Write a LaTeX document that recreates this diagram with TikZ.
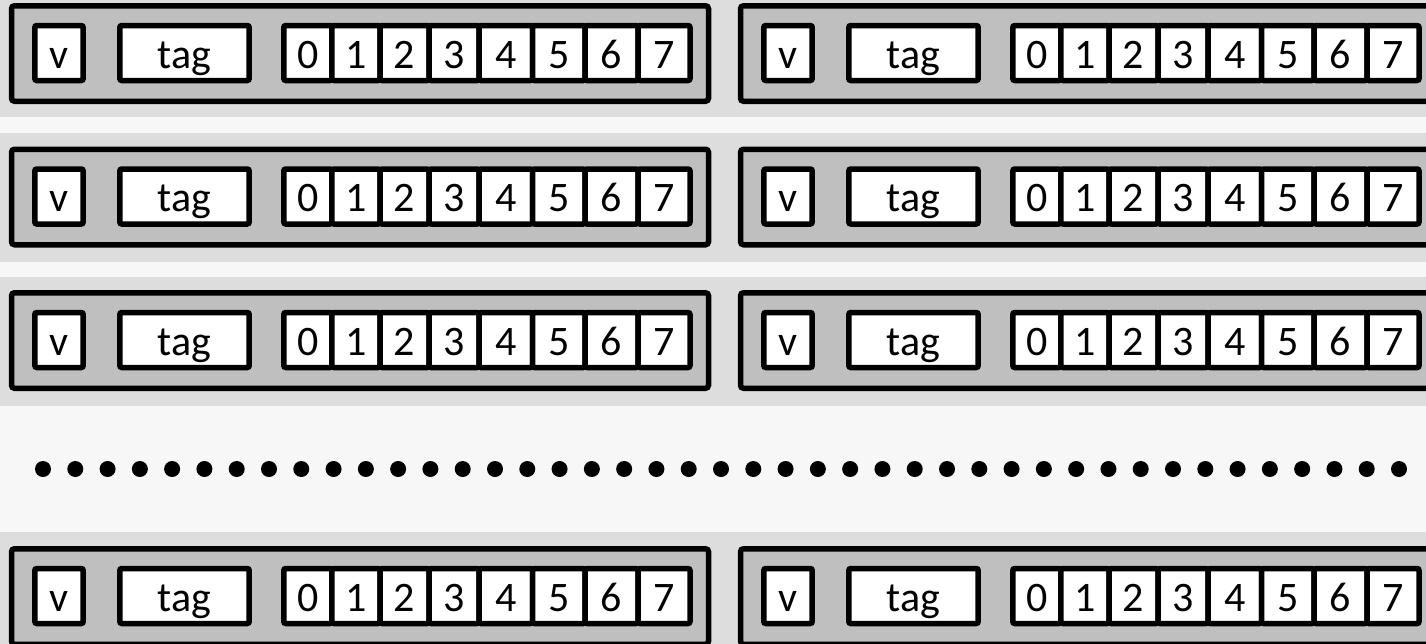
\documentclass[tikz,border=0pt]{standalone}
\usepackage{fontspec}
\setmainfont{Carlito}
\definecolor{bandgray}{HTML}{DDDDDD}
\definecolor{stripgray}{HTML}{F7F7F7}
\definecolor{boxgray}{HTML}{BFBFBF}
\begin{document}
\begin{tikzpicture}[x=1pt,y=-1pt,
  rowbox/.style={draw,line width=5.5pt,fill=boxgray,rounded corners=3pt,
    minimum width=697pt,minimum height=95.5pt,inner sep=0pt},
  cellbox/.style={draw,line width=5.5pt,fill=white,rounded corners=2pt,
    minimum height=55pt,inner sep=0pt,text height=40pt,text depth=10pt,
    font=\fontsize{42}{50}\selectfont},
  band/.style={fill=bandgray},
  dotmark/.style={fill=black}]
\clip (0,0) rectangle (1426,643);
\fill[stripgray] (0,0) rectangle (1426,643);
% background bands
\foreach \a/\b in {-12/117,133/262,277/406,532/661}
  \fill[band] (-5,\a) rectangle (1440,\b);
% rows
\foreach \T/\r in {3/1,146.5/2,290/3,546/5}{
  \foreach \o/\c in {0/a,729/b}{
    \node[rowbox] (box-\r-\c) at ({360+\o},{\T+50.5}) {};
    \node[cellbox,minimum width=48.4pt] (v-\r-\c) at ({59+\o},{\T+50}) {v};
    \node[cellbox,minimum width=129.4pt] (tag-\r-\c) at ({184.5+\o},{\T+50}) {tag};
    \foreach \k/\l/\rr in {0/283.8/331.8,1/331.8/380,2/380/429,3/429/479,
                           4/479/532.5,5/532.5/585,6/585/638,7/638/690}{
      \node[cellbox,minimum width={\rr pt-\l pt}] (d-\r-\c-\k)
        at ({(\l+\rr)/2+\o},{\T+50}) {\k};
    }
  }
}
% dots
\foreach \i in {0,...,42}
  \fill[dotmark] ({43+\i*32.286},469) circle (8);
\end{tikzpicture}
\end{document}
